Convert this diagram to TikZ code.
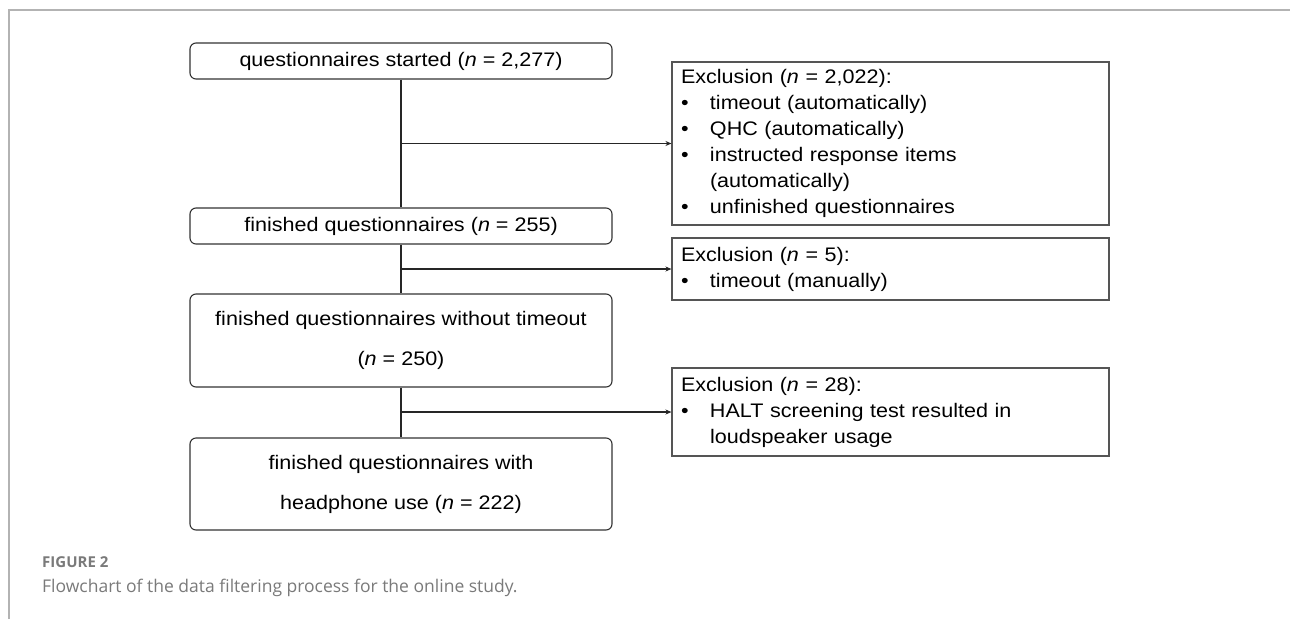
\documentclass[tikz,border=0pt]{standalone}
\usepackage{fontspec}
\setmainfont{Liberation Sans}[FakeStretch=1.1]
\newfontfamily\capfont{Open Sans}
\usetikzlibrary{arrows.meta}
\definecolor{framegray}{HTML}{B3B3B3}
\definecolor{boxline}{HTML}{333333}
\definecolor{exline}{HTML}{555555}
\definecolor{captxt}{HTML}{7A7A7A}
\newcommand\exbul{\makebox[29pt][l]{\textbullet}}
\begin{document}
\begin{tikzpicture}[x=1pt,y=-1pt,
  flowbox/.style={draw=boxline, line width=1.1pt, rounded corners=6pt, minimum width=422pt,
    align=center, inner sep=0pt, font=\fontsize{19.6}{40}\selectfont},
  exbox/.style={draw=exline, line width=1.1pt, text width=419pt, align=left,
    inner xsep=9pt, inner ysep=0pt, font=\fontsize{19.6}{26}\selectfont},
  link/.style={line width=1.6pt, draw=black!85},
  arr/.style={link, -{Stealth[length=6pt,width=5pt]}}]
\useasboundingbox (0,0) rectangle (1290,619);
\fill[white] (0,0) rectangle (1290,619);
\draw[framegray, line width=1.5pt] (9,619) -- (9,10) -- (1290,10);

% main flow
\node[flowbox, minimum height=36pt] (b1) at (401,61) {questionnaires started (\textit{n} = 2,277)};
\node[flowbox, minimum height=36pt] (b2) at (401,226) {finished questionnaires (\textit{n} = 255)};
\node[flowbox, minimum height=93pt] (b3) at (401,340.5) {finished questionnaires without timeout\\(\textit{n} = 250)};
\node[flowbox, minimum height=92pt] (b4) at (401,484) {finished questionnaires with\\headphone use (\textit{n} = 222)};

% exclusion boxes
\node[exbox, minimum height=163pt] (e1) at (890.5,143.5) {Exclusion (\textit{n} = 2,022):\\
\exbul timeout (automatically)\\
\exbul QHC (automatically)\\
\exbul instructed response items\\
\hspace*{29pt}(automatically)\\
\exbul unfinished questionnaires};
\node[exbox, minimum height=62pt] (e2) at (890.5,269) {Exclusion (\textit{n} = 5):\\
\exbul timeout (manually)};
\node[exbox, minimum height=88pt] (e3) at (890.5,412) {Exclusion (\textit{n} = 28):\\
\exbul HALT screening test resulted in\\
\hspace*{29pt}loudspeaker usage};

% connectors
\draw[link] (b1) -- (b2);
\draw[link] (b2) -- (b3);
\draw[link] (b3) -- (b4);
\draw[arr] (e1.west -| b1.south) -- (e1.west);
\draw[arr] (e2.west -| b1.south) -- (e2.west);
\draw[arr] (e3.west -| b1.south) -- (e3.west);

% caption
\node[anchor=base west, inner sep=0pt, text=captxt, font=\capfont\bfseries\fontsize{15}{17}\selectfont] (fig) at (42,567) {FIGURE 2};
\node[anchor=base west, inner sep=0pt, text=captxt, font=\capfont\fontsize{17.5}{20}\selectfont] (cap) at (42,592) {Flowchart of the data filtering process for the online study.};
\end{tikzpicture}
\end{document}
